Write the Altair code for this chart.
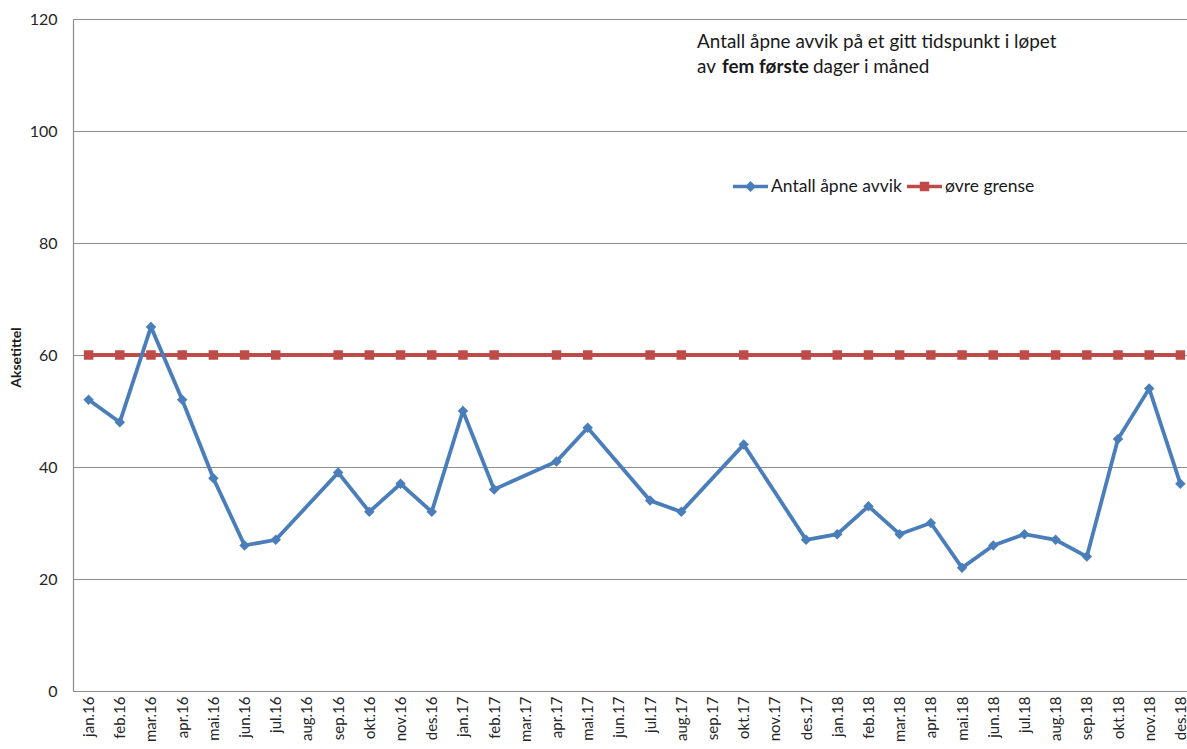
import altair as alt
import pandas as pd

# Monthly labels, Jan 2016 - Dec 2018
months = [
    "jan.16", "feb.16", "mar.16", "apr.16", "mai.16", "jun.16", "jul.16", "aug.16",
    "sep.16", "okt.16", "nov.16", "des.16",
    "jan.17", "feb.17", "mar.17", "apr.17", "mai.17", "jun.17", "jul.17", "aug.17",
    "sep.17", "okt.17", "nov.17", "des.17",
    "jan.18", "feb.18", "mar.18", "apr.18", "mai.18", "jun.18", "jul.18", "aug.18",
    "sep.18", "okt.18", "nov.18", "des.18",
]

# Open deviations counted in the first five days of each month (None = not registered)
open_deviations = [
    52, 48, 65, 52, 38, 26, 27, None, 39, 32, 37, 32,
    50, 36, None, 41, 47, None, 34, 32, None, 44, None, 27,
    28, 33, 28, 30, 22, 26, 28, 27, 24, 45, 54, 37,
]

# Upper limit, registered for the same months
upper_limit = [
    60, 60, 60, 60, 60, 60, 60, None, 60, 60, 60, 60,
    60, 60, None, 60, 60, None, 60, 60, None, 60, None, 60,
    60, 60, 60, 60, 60, 60, 60, 60, 60, 60, 60, 60,
]

series_names = ["Antall åpne avvik", "øvre grense"]
series_colors = ["#4a7ebb", "#be4b48"]

y_ticks = [0, 20, 40, 60, 80, 100, 120]

FONT = "Lato"

dev_df = pd.DataFrame({"month": months, "value": open_deviations}).dropna()
lim_df = pd.DataFrame({"month": months, "value": upper_limit}).dropna()

x_enc = alt.X(
    "month:O",
    sort=months,
    scale=alt.Scale(domain=months, range=[0, 1123]),
    axis=alt.Axis(
        title=None,
        labelAngle=270,
        labelFontSize=15,
        labelColor="#262626",
        labelPadding=5,
        ticks=False,
        grid=False,
        domainColor="#8c8c8c",
        domainWidth=1.2,
        labelOverlap=False,
    ),
)
y_enc = alt.Y(
    "value:Q",
    scale=alt.Scale(domain=[0, 120], nice=False, zero=True),
    axis=alt.Axis(
        values=y_ticks,
        title="Aksetittel",
        titleFontSize=14,
        titleFontWeight="bold",
        titleColor="#1a1a1a",
        titleAngle=270,
        titleX=-57,
        titleY=338,
        titleAlign="center",
        titleBaseline="middle",
        labelFontSize=16,
        labelColor="#262626",
        labelPadding=16,
        ticks=False,
        grid=True,
        gridColor="#8c8c8c",
        gridWidth=1.2,
        domainColor="#8c8c8c",
        domainWidth=1.2,
    ),
)

lim_line = alt.Chart(lim_df).mark_line(color=series_colors[1], strokeWidth=3.8).encode(x=x_enc, y=y_enc)
lim_pts = alt.Chart(lim_df).mark_point(
    shape="square", filled=True, size=90, color=series_colors[1], opacity=1
).encode(x=x_enc, y=y_enc)

dev_line = alt.Chart(dev_df).mark_line(color=series_colors[0], strokeWidth=3.8).encode(x=x_enc, y=y_enc)
dev_pts = alt.Chart(dev_df).mark_point(
    shape="diamond", filled=True, size=110, color=series_colors[0], opacity=1
).encode(x=x_enc, y=y_enc)

# Legend symbols: a line segment with the series marker on top
sym_dev = "M-1,-0.1L1,-0.1L1,0.1L-1,0.1Z M0,-0.32L0.32,0L0,0.32L-0.32,0Z"
sym_lim = "M-1,-0.1L1,-0.1L1,0.1L-1,0.1Z M-0.27,-0.27L0.27,-0.27L0.27,0.27L-0.27,0.27Z"

legend_opts = dict(
    title=None,
    orient="none",
    legendX=660,
    legendY=150,
    direction="horizontal",
    symbolSize=1225,
    symbolStrokeWidth=0,
    symbolOpacity=1,
    labelFontSize=17.5,
    labelColor="#1a1a1a",
    labelFont=FONT,
    labelOffset=3,
    columnPadding=5,
)

# The legend layer draws nothing itself; its scales carry the legend entries
legend_df = pd.DataFrame({"series": series_names, "month": months[:2], "value": [-1, -1]})
legend_layer = (
    alt.Chart(legend_df)
    .transform_filter("datum.value >= 0")
    .mark_point(filled=True, opacity=1)
    .encode(
        x=x_enc,
        y=y_enc,
        color=alt.Color(
            "series:N",
            scale=alt.Scale(domain=series_names, range=series_colors),
            legend=alt.Legend(**legend_opts),
        ),
        shape=alt.Shape(
            "series:N",
            scale=alt.Scale(domain=series_names, range=[sym_dev, sym_lim]),
            legend=alt.Legend(**legend_opts),
        ),
    )
)

# Explanatory note in the upper right of the plot
note_style = dict(align="left", baseline="alphabetic", fontSize=18.9, font=FONT, color="#1a1a1a")
note1 = alt.Chart(pd.DataFrame({"t": ["Antall åpne avvik på et gitt tidspunkt i løpet"]})).mark_text(
    **note_style
).encode(text="t:N", x=alt.value(624), y=alt.value(29))
note2a = alt.Chart(pd.DataFrame({"t": ["av"]})).mark_text(**note_style).encode(
    text="t:N", x=alt.value(624), y=alt.value(54)
)
note2b = alt.Chart(pd.DataFrame({"t": ["fem første"]})).mark_text(**note_style, fontWeight="bold").encode(
    text="t:N", x=alt.value(649), y=alt.value(54)
)
note2c = alt.Chart(pd.DataFrame({"t": ["dager i måned"]})).mark_text(**note_style).encode(
    text="t:N", x=alt.value(740), y=alt.value(54)
)

chart = (
    alt.layer(legend_layer, lim_line, lim_pts, dev_line, dev_pts, note1, note2a, note2b, note2c)
    .properties(
        width=1114,
        height=672,
        autosize=alt.AutoSizeParams(type="none"),
        padding={"left": 73, "top": 19, "right": 0, "bottom": 58},
        background="white",
    )
    .configure_view(stroke=None)
    .configure_axis(labelFont=FONT, titleFont=FONT)
)

chart.save("out.html", embed_options={"renderer": "svg", "actions": False})
